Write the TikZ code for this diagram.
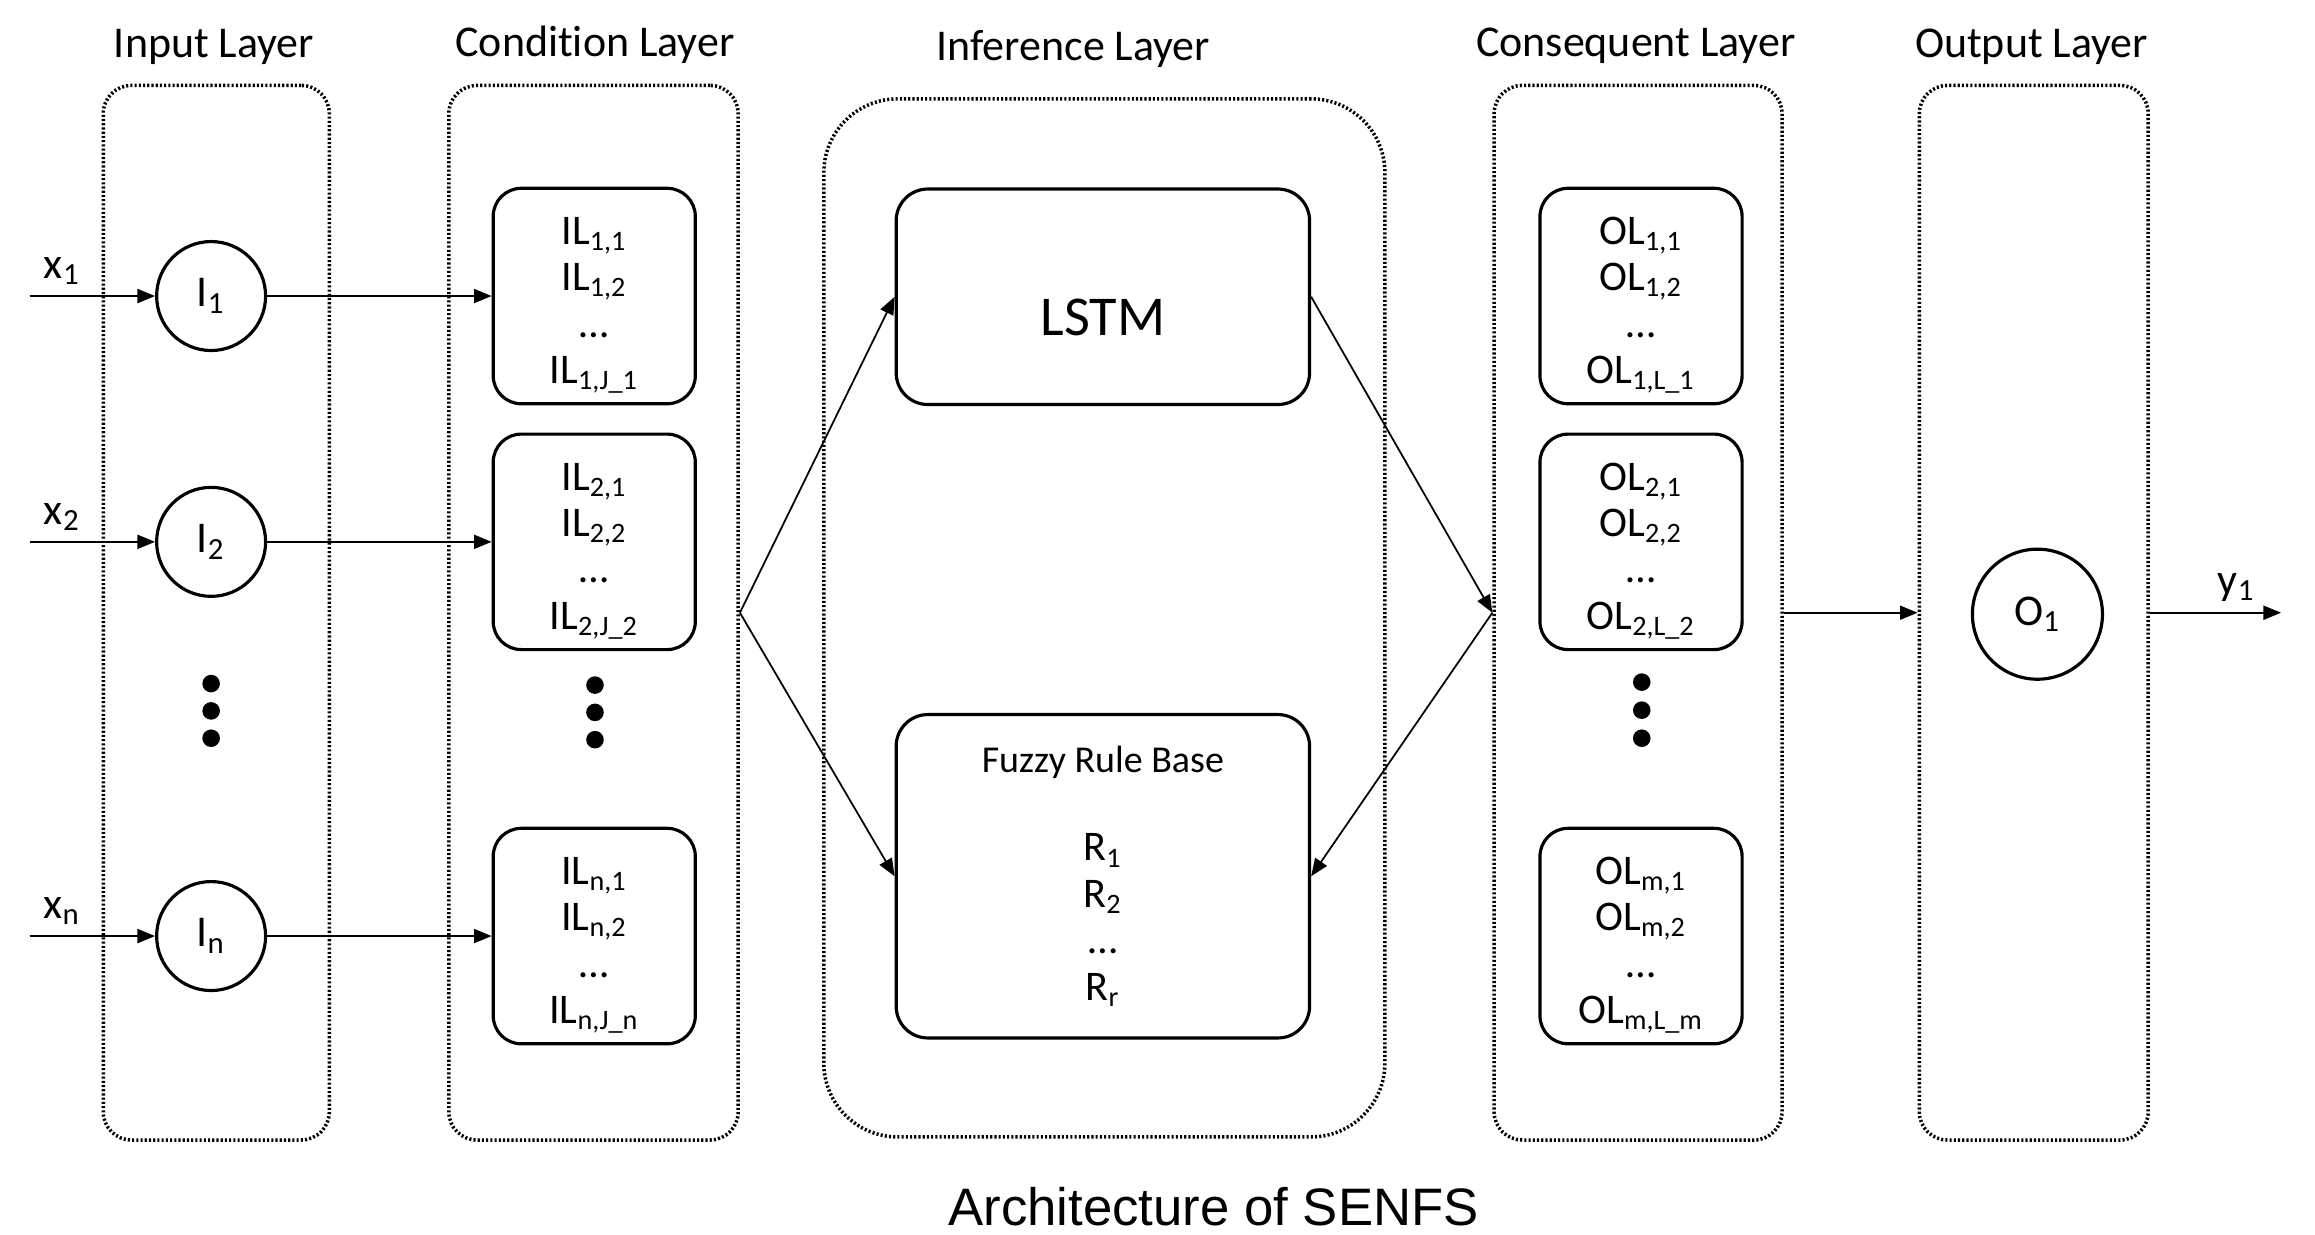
\documentclass[tikz,border=0pt]{standalone}
\usepackage{fontspec}
\setmainfont{Carlito}[Ligatures=NoCommon]
\newfontfamily\capfont{Liberation Sans}
\usetikzlibrary{arrows.meta}
\newcommand{\topline}{\rule{0pt}{13pt}}

\begin{document}
\begin{tikzpicture}[x=0.42pt, y=-0.42pt,
  >={Triangle[length=5pt,width=4pt]},
  layer/.style={draw, line width=1pt, dash pattern=on 0.6pt off 0.6pt, rounded corners=8pt,
    minimum height=300pt, inner sep=0pt},
  title/.style={font=\fontsize{12.5}{15}\selectfont, inner sep=0pt},
  neuron/.style={draw, circle, line width=0.9pt, minimum size=31pt, inner sep=0pt,
    font=\fontsize{12.5}{15}\selectfont},
  unit/.style={draw, rounded corners=8pt, line width=0.9pt, minimum width=57.5pt,
    minimum height=61.3pt, inner sep=0pt, align=center, font=\fontsize{12}{13.2}\selectfont},
  link/.style={->, line width=0.5pt},
  lbl/.style={font=\fontsize{12.5}{15}\selectfont, inner sep=1pt}]

\useasboundingbox (0,0) rectangle (1568,836);

\node[layer, minimum width=64.3pt] (inp) at (146.5,415) {};
\node[layer, minimum width=82.3pt] (cond) at (402,415) {};
\node[layer, minimum width=159.6pt, minimum height=295.3pt, rounded corners=21pt] (infer) at (748,418.5) {};
\node[layer, minimum width=81.9pt] (cons) at (1109.5,415) {};
\node[layer, minimum width=65.1pt] (outp) at (1377.5,415) {};

\node[title] (tinp) at (145,32) {Input Layer};
\node[title] (tcond) at (403,30) {Condition Layer};
\node[title] (tinfer) at (727,33) {Inference Layer};
\node[title] (tcons) at (1108,31) {Consequent Layer};
\node[title] (toutp) at (1376,32) {Output Layer};

\node[neuron] (i1) at (143,200.5) {I\textsubscript{1}};
\node[neuron] (i2) at (143,367) {I\textsubscript{2}};
\node[neuron] (in) at (143,634) {I\textsubscript{n}};

\node[unit] (il1) at (402.5,200.5) {\topline IL\textsubscript{1,1}\\IL\textsubscript{1,2}\\…\\IL\textsubscript{1,J\_1}};
\node[unit] (il2) at (402.5,367) {\topline IL\textsubscript{2,1}\\IL\textsubscript{2,2}\\…\\IL\textsubscript{2,J\_2}};
\node[unit] (iln) at (402.5,634) {\topline IL\textsubscript{n,1}\\IL\textsubscript{n,2}\\…\\IL\textsubscript{n,J\_n}};

\node[unit, minimum width=117.6pt, rounded corners=9pt, font=\fontsize{16}{19}\selectfont] (lstm) at (747,201)
  {\raisebox{-11pt}[0pt][0pt]{LSTM}};
\node[unit, minimum width=117.6pt, minimum height=92pt, rounded corners=9pt] (frb) at (747,593.5)
  {{\fontsize{10.8}{13}\selectfont Fuzzy Rule Base}\\[12pt]R\textsubscript{1}\\R\textsubscript{2}\\…\\R\textsubscript{r}};

\node[unit] (ol1) at (1111.5,200.5) {\topline OL\textsubscript{1,1}\\OL\textsubscript{1,2}\\…\\OL\textsubscript{1,L\_1}};
\node[unit] (ol2) at (1111.5,367) {\topline OL\textsubscript{2,1}\\OL\textsubscript{2,2}\\…\\OL\textsubscript{2,L\_2}};
\node[unit] (olm) at (1111.5,634) {\topline OL\textsubscript{m,1}\\OL\textsubscript{m,2}\\…\\OL\textsubscript{m,L\_m}};

\node[neuron, minimum size=37pt] (o1) at (1380,416) {O\textsubscript{1}};

\fill (143,463) circle (2.5pt);
\fill (143,481.5) circle (2.5pt);
\fill (143,500) circle (2.5pt);
\fill (403,464) circle (2.5pt);
\fill (403,482.5) circle (2.5pt);
\fill (403,501) circle (2.5pt);
\fill (1112,462) circle (2.5pt);
\fill (1112,481) circle (2.5pt);
\fill (1112,500) circle (2.5pt);

\coordinate (src1) at (20,200.5);
\coordinate (src2) at (20,367);
\coordinate (srcn) at (20,634);
\coordinate (sink) at (1545,415);

\draw[link] (src1) -- node[lbl, pos=0.26, above=2pt] {x\textsubscript{1}} (i1);
\draw[link] (src2) -- node[lbl, pos=0.26, above=2pt] {x\textsubscript{2}} (i2);
\draw[link] (srcn) -- node[lbl, pos=0.26, above=2pt] {x\textsubscript{n}} (in);

\draw[link] (i1) -- (il1);
\draw[link] (i2) -- (il2);
\draw[link] (in) -- (iln);

\draw[link] (cond.east) -- (lstm.west);
\draw[link] (cond.east) -- (frb.west);
\draw[link] (lstm.east) -- (cons.west);
\draw[link] (cons.west) -- (frb.east);

\draw[link] (cons.east) -- (outp.west);
\draw[link] (outp.east) -- node[lbl, pos=0.66, above=2pt] {y\textsubscript{1}} (sink);

\node[font=\capfont\fontsize{15}{18}\selectfont] (cap) at (822,817) {Architecture of SENFS};

\end{tikzpicture}
\end{document}
